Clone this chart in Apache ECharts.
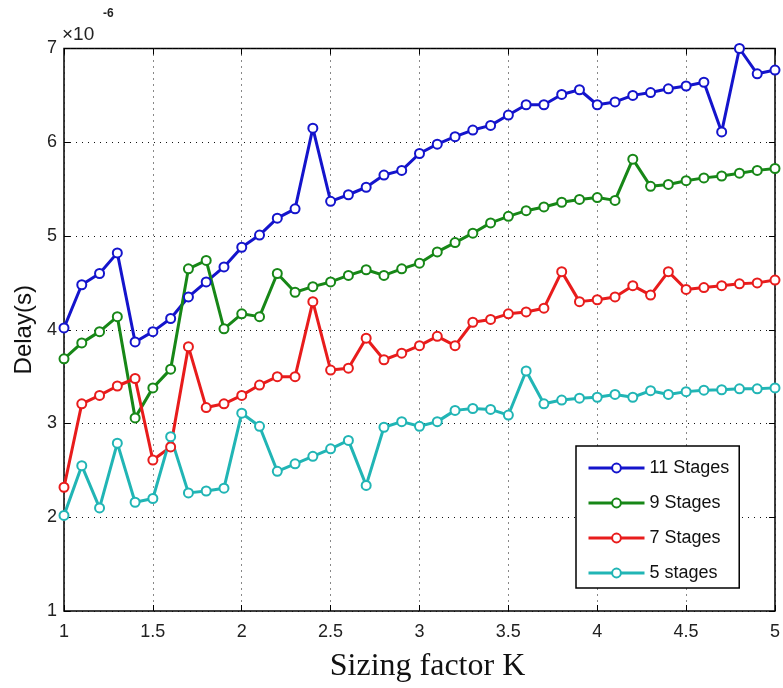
<!DOCTYPE html>
<html>
<head>
<meta charset="utf-8">
<script src="https://cdn.jsdelivr.net/npm/echarts@6/dist/echarts.min.js"></script>
<style>
  html, body { margin: 0; padding: 0; background: #ffffff; }
  #chart { width: 783px; height: 688px; }
</style>
</head>
<body>
<div id="chart"></div>
<script>
// Sizing factor K (x axis)
const sizingK = [1.0, 1.1, 1.2, 1.3, 1.4, 1.5, 1.6, 1.7, 1.8, 1.9,
                 2.0, 2.1, 2.2, 2.3, 2.4, 2.5, 2.6, 2.7, 2.8, 2.9,
                 3.0, 3.1, 3.2, 3.3, 3.4, 3.5, 3.6, 3.7, 3.8, 3.9,
                 4.0, 4.1, 4.2, 4.3, 4.4, 4.5, 4.6, 4.7, 4.8, 4.9,
                 5.0];

// Delay in units of 1e-6 s
const stages11 = [4.02, 4.48, 4.60, 4.82, 3.87, 3.98, 4.12, 4.35, 4.51, 4.67,
                  4.88, 5.01, 5.19, 5.29, 6.15, 5.37, 5.44, 5.52, 5.65, 5.70,
                  5.88, 5.98, 6.06, 6.13, 6.18, 6.29, 6.40, 6.40, 6.51, 6.56,
                  6.40, 6.43, 6.50, 6.53, 6.57, 6.60, 6.64, 6.11, 7.00, 6.73,
                  6.77];
const stages9 = [3.69, 3.86, 3.98, 4.14, 3.06, 3.38, 3.58, 4.65, 4.74, 4.01,
                 4.17, 4.14, 4.60, 4.40, 4.46, 4.51, 4.58, 4.64, 4.58, 4.65,
                 4.71, 4.83, 4.93, 5.03, 5.14, 5.21, 5.27, 5.31, 5.36, 5.39,
                 5.41, 5.38, 5.82, 5.53, 5.55, 5.59, 5.62, 5.64, 5.67, 5.70,
                 5.72];
const stages7 = [2.32, 3.21, 3.30, 3.40, 3.48, 2.61, 2.75, 3.82, 3.17, 3.21,
                 3.30, 3.41, 3.50, 3.50, 4.30, 3.57, 3.59, 3.91, 3.68, 3.75,
                 3.83, 3.93, 3.83, 4.08, 4.11, 4.17, 4.19, 4.23, 4.62, 4.30,
                 4.32, 4.35, 4.47, 4.37, 4.62, 4.43, 4.45, 4.47, 4.49, 4.50,
                 4.53];
const stages5 = [2.02, 2.55, 2.10, 2.79, 2.16, 2.20, 2.86, 2.26, 2.28, 2.31,
                 3.11, 2.97, 2.49, 2.57, 2.65, 2.73, 2.82, 2.34, 2.96, 3.02,
                 2.97, 3.02, 3.14, 3.16, 3.15, 3.09, 3.56, 3.21, 3.25, 3.27,
                 3.28, 3.31, 3.28, 3.35, 3.31, 3.34, 3.355, 3.36, 3.37, 3.37,
                 3.38];

const seriesNames = ['11 Stages', '9 Stages', '7 Stages', '5 stages'];
const seriesValues = [stages11, stages9, stages7, stages5];
const seriesColors = ['#1414cc', '#178717', '#e81c1c', '#21b5b5'];

const xTicks = { min: 1, max: 5, step: 0.5 };
const yTicks = { min: 1, max: 7, step: 1 };

const tickFont = 'Liberation Sans, Arial, sans-serif';
const dotted = { color: '#111', width: 1, type: [1, 5] };

const chart = echarts.init(document.getElementById('chart'), null, { renderer: 'canvas' });

const series = seriesNames.map((name, i) => ({
  name: name,
  type: 'line',
  data: sizingK.map((k, j) => [k, seriesValues[i][j]]),
  symbol: 'emptyCircle',
  symbolSize: 9,
  clip: false,
  lineStyle: { color: seriesColors[i], width: 3 },
  itemStyle: { color: seriesColors[i], borderColor: seriesColors[i], borderWidth: 2 },
  emphasis: { disabled: true },
  z: 3
}));

chart.setOption({
  animation: false,
  backgroundColor: '#ffffff',
  grid: {
    left: 64, right: 5, top: 48.5, bottom: 77,
    show: true, borderColor: '#000', borderWidth: 1.5, backgroundColor: '#ffffff'
  },
  legend: {
    orient: 'vertical',
    left: 576, top: 446,
    data: seriesNames,
    itemWidth: 56, itemHeight: 11, itemGap: 17,
    padding: [13, 10, 6, 11],
    backgroundColor: '#ffffff',
    borderColor: '#000', borderWidth: 1.5,
    borderRadius: 0,
    lineStyle: { width: 3 },
    textStyle: { fontFamily: tickFont, fontSize: 18, color: '#111' }
  },
  xAxis: [{
    type: 'value', position: 'bottom',
    min: xTicks.min, max: xTicks.max, interval: xTicks.step,
    name: 'Sizing factor K', nameLocation: 'middle', nameGap: 40,
    nameTextStyle: { fontFamily: 'Liberation Serif, Times New Roman, serif', fontSize: 32, color: '#111', verticalAlign: 'top', padding: [0, 0, 0, 16] },
    axisLine: { show: false },
    axisTick: { show: true, inside: true, length: 6, lineStyle: { color: '#000', width: 1 } },
    axisLabel: { fontFamily: tickFont, fontSize: 18, color: '#222', margin: 12 },
    splitLine: { show: true, lineStyle: dotted }
  }, {
    type: 'value', position: 'top',
    min: xTicks.min, max: xTicks.max, interval: xTicks.step,
    axisLine: { show: false },
    axisTick: { show: true, inside: true, length: 6, lineStyle: { color: '#000', width: 1 } },
    axisLabel: { show: false },
    splitLine: { show: false }
  }],
  yAxis: [{
    type: 'value', position: 'left',
    min: yTicks.min, max: yTicks.max, interval: yTicks.step,
    name: 'Delay(s)', nameLocation: 'middle', nameGap: 26,
    nameTextStyle: { fontFamily: tickFont, fontSize: 24, color: '#111' },
    axisLine: { show: false },
    axisTick: { show: true, inside: true, length: 6, lineStyle: { color: '#000', width: 1 } },
    axisLabel: { fontFamily: tickFont, fontSize: 18, color: '#222', margin: 7 },
    splitLine: { show: true, lineStyle: dotted }
  }, {
    type: 'value', position: 'right',
    min: yTicks.min, max: yTicks.max, interval: yTicks.step,
    axisLine: { show: false },
    axisTick: { show: true, inside: true, length: 6, lineStyle: { color: '#000', width: 1 } },
    axisLabel: { show: false },
    splitLine: { show: false }
  }],
  graphic: [
    { type: 'text', left: 62, top: 25, style: { text: '×10', font: '19px ' + tickFont, fill: '#222' } },
    { type: 'text', left: 103, top: 8, style: { text: '-6', font: 'bold 12px ' + tickFont, fill: '#222' } }
  ],
  series: series
});
</script>
</body>
</html>
